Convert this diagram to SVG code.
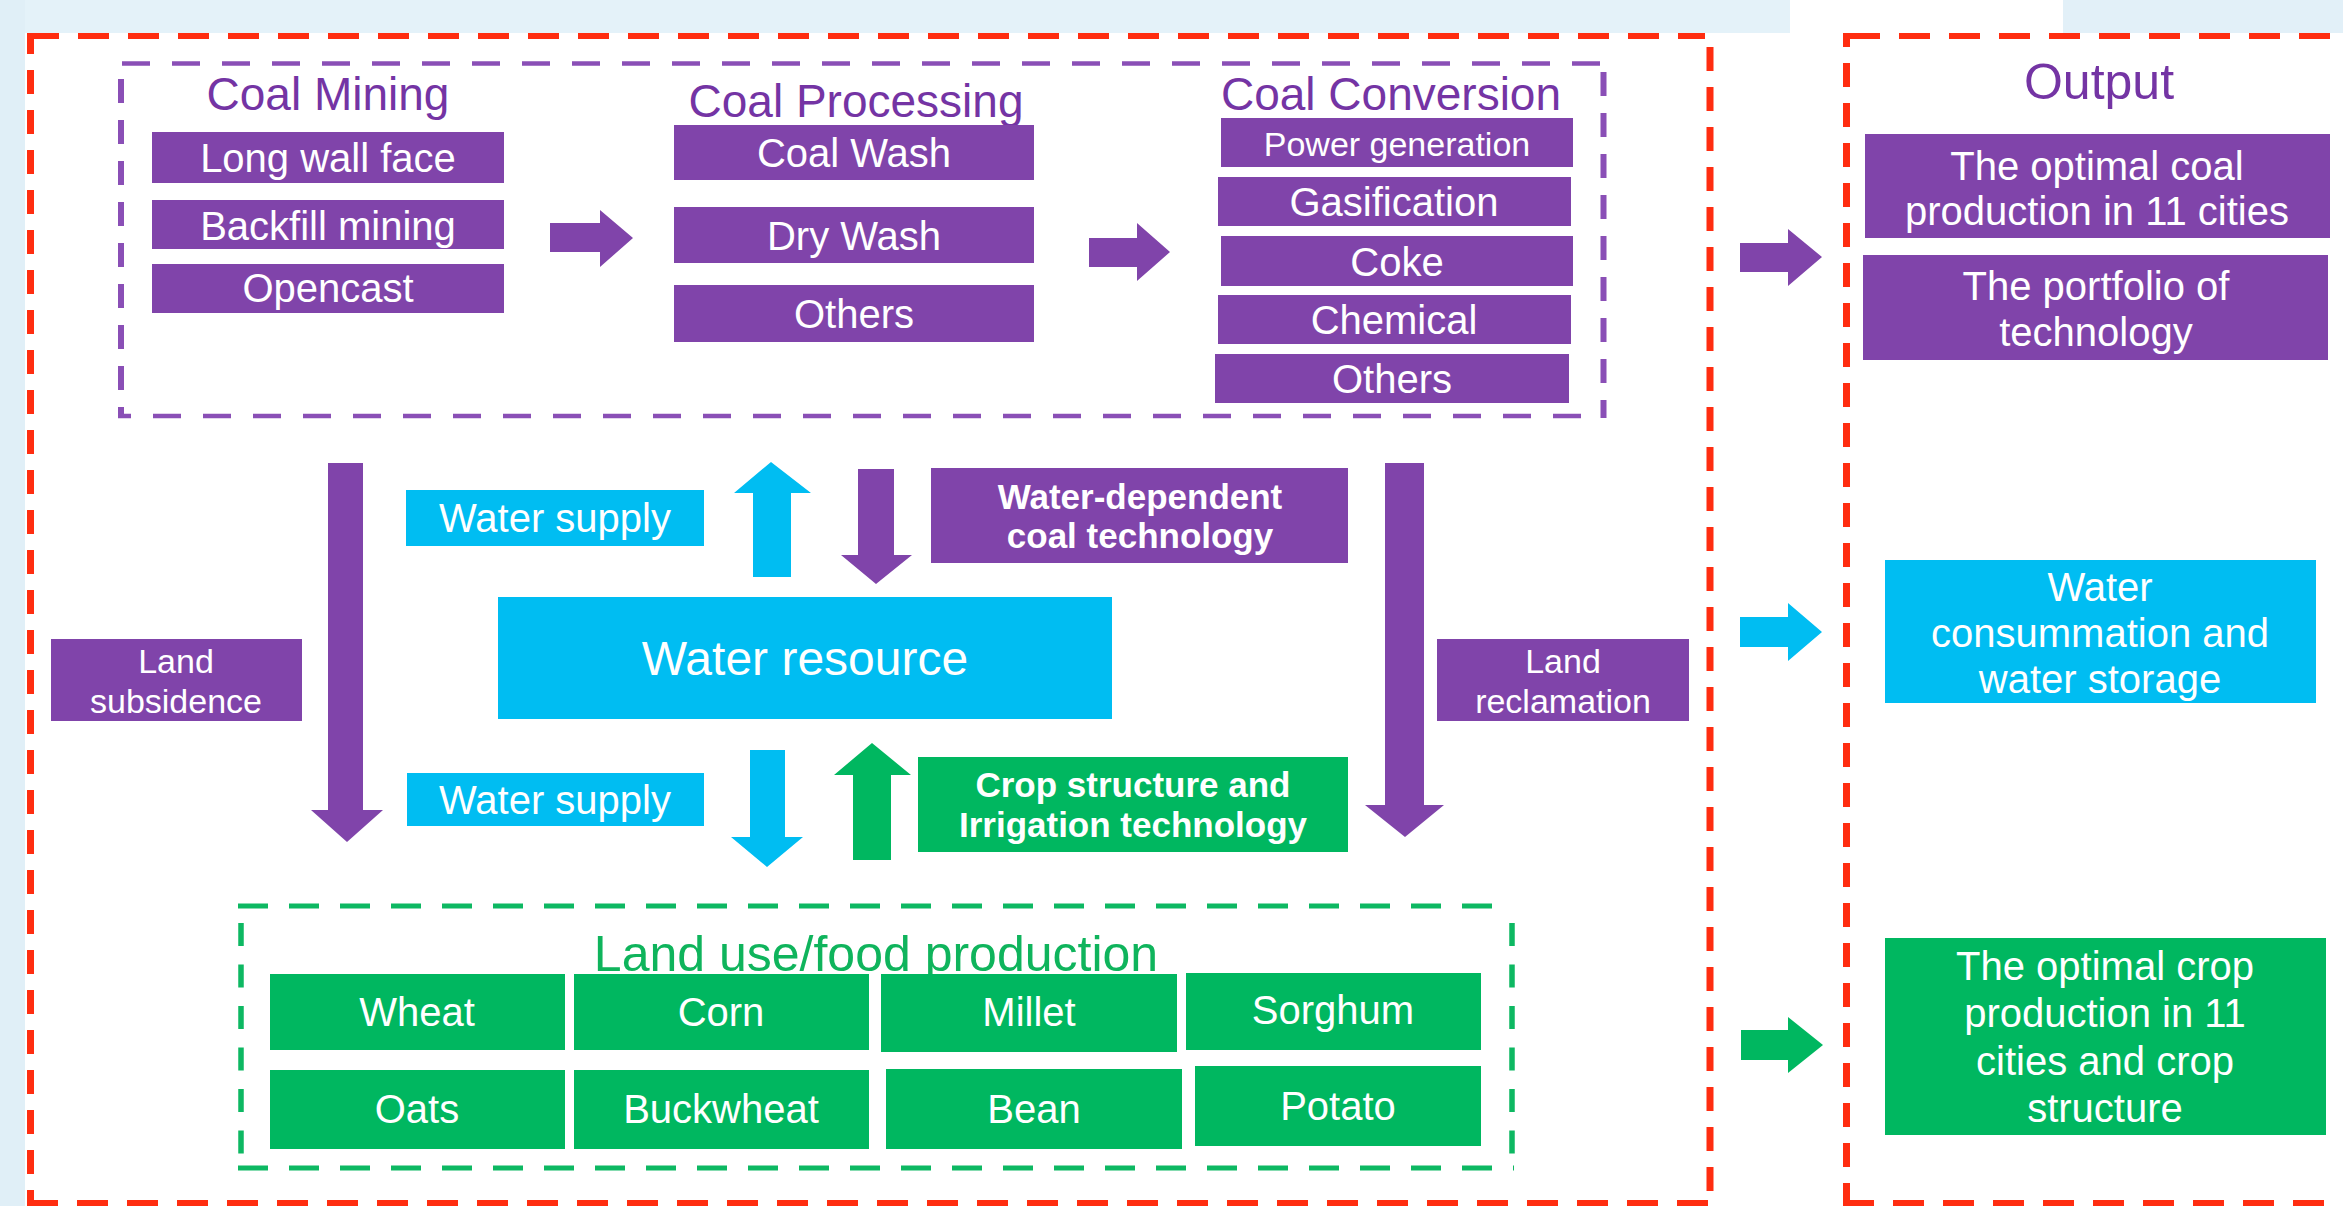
<svg xmlns="http://www.w3.org/2000/svg" width="2343" height="1206" viewBox="0 0 2343 1206">
<style>
.t{font-family:"Liberation Sans",Arial,sans-serif;text-anchor:middle}
.w{fill:#ffffff}
.p{fill:#8044aa}
.c{fill:#00bdf2}
.g{fill:#00b760}
.f40{font-size:40px}
.f34{font-size:34px}
.b35{font-size:35px;font-weight:bold}
.ttl{font-size:46px;fill:#7434a4}
.rh{stroke:#ff2d10;stroke-width:6;stroke-dasharray:31 19;fill:none}
.rv{stroke:#ff2d10;stroke-width:7;stroke-dasharray:24 16;fill:none}
.ph{stroke:#8a4fb6;stroke-width:4.5;stroke-dasharray:28 22;fill:none}
.pv{stroke:#8a4fb6;stroke-width:6;stroke-dasharray:24 17;fill:none}
.gh{stroke:#0db862;stroke-width:5;stroke-dasharray:30 21;fill:none}
.gv{stroke:#0db862;stroke-width:5.5;stroke-dasharray:23 18.5;fill:none}
</style>
<rect x="0" y="0" width="2343" height="1206" fill="#ffffff"/>
<rect x="0" y="0" width="1790" height="33" fill="#e4f2f9"/>
<rect x="2063" y="0" width="280" height="33" fill="#e2f0f8"/>
<rect x="0" y="0" width="25" height="1206" fill="#e0eff7"/>

<g id="frame-left">
<line class="rh" x1="27" y1="36" x2="1705" y2="36" stroke-dashoffset="-1"/>
<line class="rh" x1="27" y1="1203" x2="1710" y2="1203"/>
<line class="rv" x1="30.5" y1="33" x2="30.5" y2="1206" stroke-dashoffset="3"/>
<line class="rv" x1="1710" y1="35" x2="1710" y2="1206" stroke-dashoffset="28"/>
</g>
<g id="frame-output">
<line class="rh" x1="1843" y1="36" x2="2343" y2="36" stroke-dashoffset="44"/>
<line class="rh" x1="1843" y1="1203" x2="2343" y2="1203"/>
<line class="rv" x1="1846.5" y1="33" x2="1846.5" y2="1206" stroke-dashoffset="10"/>
</g>

<g id="coal-group">
<line class="ph" x1="122" y1="63.5" x2="1603" y2="63.5"/>
<line class="ph" x1="118" y1="416" x2="1603" y2="416" stroke-dashoffset="15"/>
<line class="pv" x1="121" y1="79" x2="121" y2="418"/>
<line class="pv" x1="1603.5" y1="72" x2="1603.5" y2="418"/>
</g>

<g id="coal-mining">
<text class="t ttl" x="328" y="110">Coal Mining</text>
<rect class="p" x="152" y="132" width="352" height="51"/>
<text class="t w f40" x="328" y="172">Long wall face</text>
<rect class="p" x="152" y="200" width="352" height="49"/>
<text class="t w f40" x="328" y="240">Backfill mining</text>
<rect class="p" x="152" y="264" width="352" height="49"/>
<text class="t w f40" x="328" y="302">Opencast</text>
</g>

<g id="coal-processing">
<text class="t ttl" x="856" y="117">Coal Processing</text>
<rect class="p" x="674" y="125" width="360" height="55"/>
<text class="t w f40" x="854" y="167">Coal Wash</text>
<rect class="p" x="674" y="207" width="360" height="56"/>
<text class="t w f40" x="854" y="250">Dry Wash</text>
<rect class="p" x="674" y="285" width="360" height="57"/>
<text class="t w f40" x="854" y="328">Others</text>
</g>

<g id="coal-conversion">
<text class="t ttl" x="1391" y="110">Coal Conversion</text>
<rect class="p" x="1221" y="118" width="352" height="49"/>
<text class="t w f34" x="1397" y="156">Power generation</text>
<rect class="p" x="1218" y="177" width="353" height="49"/>
<text class="t w f40" x="1394" y="216">Gasification</text>
<rect class="p" x="1221" y="236" width="352" height="50"/>
<text class="t w f40" x="1397" y="276">Coke</text>
<rect class="p" x="1218" y="295" width="353" height="49"/>
<text class="t w f40" x="1394" y="334">Chemical</text>
<rect class="p" x="1215" y="354" width="354" height="49"/>
<text class="t w f40" x="1392" y="393">Others</text>
</g>

<g id="output-title">
<text class="t" x="2099" y="99" style="font-size:50px;fill:#7434a4">Output</text>
</g>
<g id="out-coal">
<rect class="p" x="1865" y="134" width="465" height="104"/>
<text class="t w f40" x="2097" y="180">The optimal coal</text>
<text class="t w f40" x="2097" y="225">production in 11 cities</text>
</g>
<g id="out-tech">
<rect class="p" x="1863" y="255" width="465" height="105"/>
<text class="t w f40" x="2096" y="300">The portfolio of</text>
<text class="t w f40" x="2096" y="346">technology</text>
</g>
<g id="out-water">
<rect class="c" x="1885" y="560" width="431" height="143"/>
<text class="t w f40" x="2100" y="601">Water</text>
<text class="t w f40" x="2100" y="647">consummation and</text>
<text class="t w f40" x="2100" y="693">water storage</text>
</g>
<g id="out-crop">
<rect class="g" x="1885" y="938" width="441" height="197"/>
<text class="t w f40" x="2105" y="980">The optimal crop</text>
<text class="t w f40" x="2105" y="1027">production in 11</text>
<text class="t w f40" x="2105" y="1075">cities and crop</text>
<text class="t w f40" x="2105" y="1122">structure</text>
</g>

<g id="land-subsidence">
<rect class="p" x="51" y="639" width="251" height="82"/>
<text class="t w f34" x="176" y="673">Land</text>
<text class="t w f34" x="176" y="713">subsidence</text>
</g>
<g id="land-reclamation">
<rect class="p" x="1437" y="639" width="252" height="82"/>
<text class="t w f34" x="1563" y="673">Land</text>
<text class="t w f34" x="1563" y="713">reclamation</text>
</g>
<g id="water-supply-top">
<rect class="c" x="406" y="490" width="298" height="56"/>
<text class="t w f40" x="555" y="532">Water supply</text>
</g>
<g id="water-supply-bottom">
<rect class="c" x="407" y="773" width="297" height="53"/>
<text class="t w f40" x="555" y="814">Water supply</text>
</g>
<g id="water-resource">
<rect class="c" x="498" y="597" width="614" height="122"/>
<text class="t w" x="805" y="675" style="font-size:48px">Water resource</text>
</g>
<g id="water-dependent">
<rect class="p" x="931" y="468" width="417" height="95"/>
<text class="t w b35" x="1140" y="509">Water-dependent</text>
<text class="t w b35" x="1140" y="548">coal technology</text>
</g>
<g id="crop-irrigation">
<rect class="g" x="918" y="757" width="430" height="95"/>
<text class="t w b35" x="1133" y="797">Crop structure and</text>
<text class="t w b35" x="1133" y="837">Irrigation technology</text>
</g>

<g id="land-use">
<line class="gh" x1="238" y1="906" x2="1512" y2="906"/>
<line class="gh" x1="238" y1="1168" x2="1514" y2="1168"/>
<line class="gv" x1="241" y1="923" x2="241" y2="1168"/>
<line class="gv" x1="1512" y1="923" x2="1512" y2="1170"/>
<text class="t" x="876" y="971" style="font-size:50px;fill:#0fb45c">Land use/food production</text>
</g>
<g id="crop-wheat"><rect class="g" x="270" y="974" width="295" height="76"/><text class="t w f40" x="417" y="1026">Wheat</text></g>
<g id="crop-corn"><rect class="g" x="574" y="974" width="295" height="76"/><text class="t w f40" x="721" y="1026">Corn</text></g>
<g id="crop-millet"><rect class="g" x="881" y="974" width="296" height="78"/><text class="t w f40" x="1029" y="1026">Millet</text></g>
<g id="crop-sorghum"><rect class="g" x="1186" y="973" width="295" height="77"/><text class="t w f40" x="1333" y="1024">Sorghum</text></g>
<g id="crop-oats"><rect class="g" x="270" y="1070" width="295" height="79"/><text class="t w f40" x="417" y="1123">Oats</text></g>
<g id="crop-buckwheat"><rect class="g" x="574" y="1070" width="295" height="79"/><text class="t w f40" x="721" y="1123">Buckwheat</text></g>
<g id="crop-bean"><rect class="g" x="886" y="1069" width="296" height="80"/><text class="t w f40" x="1034" y="1123">Bean</text></g>
<g id="crop-potato"><rect class="g" x="1195" y="1066" width="286" height="80"/><text class="t w f40" x="1338" y="1120">Potato</text></g>

<g id="connectors">
<polygon class="p" points="550,223 600,223 600,210 633,238 600,267 600,252 550,252"/>
<polygon class="p" points="1089,238 1137,238 1137,223 1170,252 1137,281 1137,267 1089,267"/>
<polygon class="p" points="1740,243 1788,243 1788,229 1822,257 1788,286 1788,272 1740,272"/>
<polygon class="c" points="1740,617 1788,617 1788,603 1822,632 1788,661 1788,647 1740,647"/>
<polygon class="g" points="1741,1030 1788,1030 1788,1017 1823,1045 1788,1073 1788,1060 1741,1060"/>
<polygon class="p" points="328,463 363,463 363,810 383,810 347,842 311,810 328,810"/>
<polygon class="p" points="1385,463 1424,463 1424,805 1444,805 1405,837 1365,805 1385,805"/>
<polygon class="c" points="771,462 811,493 791,493 791,577 753,577 753,493 734,493"/>
<polygon class="p" points="858,469 894,469 894,555 912,555 876,584 841,555 858,555"/>
<polygon class="c" points="750,750 785,750 785,837 803,837 767,867 731,837 750,837"/>
<polygon class="g" points="872,743 911,775 891,775 891,860 853,860 853,775 834,775"/>
</g>
</svg>
